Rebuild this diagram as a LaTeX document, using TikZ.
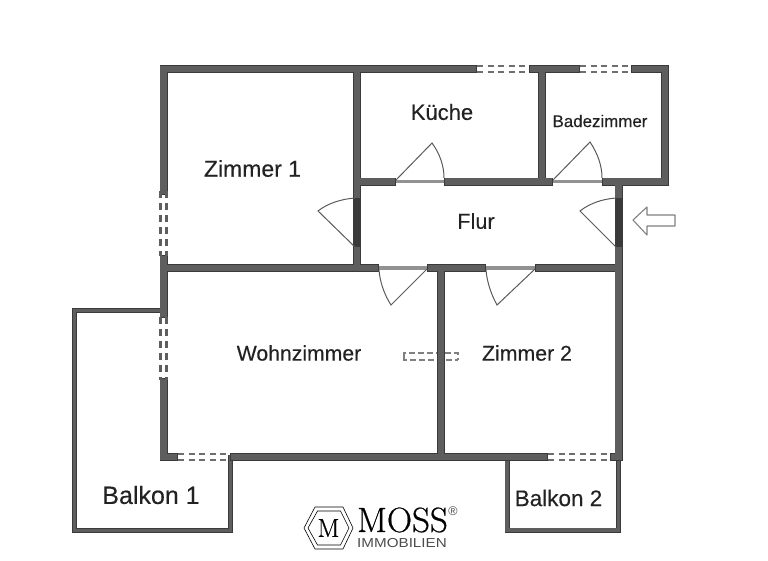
\documentclass[tikz,border=0pt]{standalone}
\usepackage{fontspec}
\newfontfamily\planfont[FakeBold=0.25]{Liberation Sans}
\newfontfamily\thinfont{Liberation Sans}
\newfontfamily\logofont[FakeBold=0.6]{Latin Modern Roman}
\definecolor{walldark}{HTML}{3A3A3A}
\definecolor{wallgray}{HTML}{5E5E5E}
\definecolor{doorgray}{HTML}{5A5A5A}
\definecolor{sillgray}{HTML}{929292}
\definecolor{labeltext}{HTML}{222222}
\definecolor{dashgray}{HTML}{6E6E6E}
\tikzset{
  roomlabel/.style={font=\planfont, text=labeltext, inner sep=0pt},
  doorleaf/.style={draw=doorgray, line width=1pt},
  doorsill/.style={draw=sillgray, line width=3.2pt},
  windowline/.style={draw=dashgray, line width=1.7pt, dash pattern=on 6pt off 4.5pt},
  sidewindow/.style={draw=wallgray, line width=2.2pt, dash pattern=on 7pt off 5pt}
}
\def\wallsegs{163.5/69/473/69, 533/69/576/69, 635/69/665/69,
  357/181.5/392/181.5, 448/181.5/549/181.5, 606/181.5/665/181.5,
  163.5/268/375/268, 431/268/482/268, 539/268/618.5/268,
  163.5/457/174/457, 234/457/544/457, 614/457/618.5/457,
  163.5/69/163.5/191, 163.5/259/163.5/314, 163.5/382/163.5/457,
  357/69/357/268, 542/69/542/181.5, 665/69/665/181.5,
  618.5/181.5/618.5/457, 441/268/441/457}
\def\balkonsegs{74.5/310.5/160/310.5, 74.5/310.5/74.5/530.5, 74.5/530.5/230.5/530.5,
  230.5/457/230.5/530.5, 507/461/507/530, 507/530/618.5/530, 618.5/457/618.5/530}
\begin{document}
\begin{tikzpicture}[x=1pt,y=-1pt]
\useasboundingbox (0,0) rectangle (768,560);

%cupboard
\draw[draw=gray, line width=1.2pt, dash pattern=on 6pt off 3pt] (404,357) -- (404,353) -- (458,353) -- (458,360) (404,357) -- (404,360) -- (458,360);

%balcony walls
\foreach \xa/\ya/\xb/\yb in \balkonsegs
  \draw[walldark, line width=5pt, line cap=rect] (\xa,\ya) -- (\xb,\yb);
\foreach \xa/\ya/\xb/\yb in \balkonsegs
  \draw[wallgray, line width=3.4pt, line cap=rect] (\xa,\ya) -- (\xb,\yb);

%walls
\foreach \xa/\ya/\xb/\yb in \wallsegs
  \draw[walldark, line width=8pt, line cap=rect] (\xa,\ya) -- (\xb,\yb);
\foreach \xa/\ya/\xb/\yb in \wallsegs
  \draw[wallgray, line width=6.4pt, line cap=rect] (\xa,\ya) -- (\xb,\yb);

%door wall parts
\draw[walldark, line width=8pt] (357,198) -- (357,247);
\draw[walldark, line width=8pt] (618.5,198) -- (618.5,247);

%windows
\draw[windowline] (477,66) -- (529,66);
\draw[windowline] (477,72) -- (529,72);
\draw[windowline] (580,66) -- (631,66);
\draw[windowline] (580,72) -- (631,72);
\draw[windowline] (178,454) -- (230,454);
\draw[windowline] (178,460) -- (230,460);
\draw[windowline] (548,454) -- (610,454);
\draw[windowline] (548,460) -- (610,460);
\draw[sidewindow] (160.5,191) -- (160.5,256);
\draw[sidewindow] (166.5,191) -- (166.5,256);
\draw[sidewindow] (160.5,317) -- (160.5,380);
\draw[sidewindow] (166.5,317) -- (166.5,380);

%door sills
\draw[doorsill] (396,181.5) -- (444,181.5);
\draw[doorsill] (553,181.5) -- (602,181.5);
\draw[doorsill] (379,268) -- (427,268);
\draw[doorsill] (486,268) -- (535,268);

%doors
\draw[doorleaf] (396,180) -- (432,143) .. controls (440,154) and (444,166) .. (444,178);
\draw[doorleaf] (553,180) -- (590,142) .. controls (598,154) and (602,166) .. (602,178);
\draw[doorleaf] (616,247) -- (580,211) .. controls (590,203) and (603,199) .. (616,198);
\draw[doorleaf] (355,247) -- (318,211) .. controls (328,203) and (342,199) .. (355,198);
\draw[doorleaf] (427,269) -- (391,305) .. controls (384,294) and (380,282) .. (379,270);
\draw[doorleaf] (535,269) -- (497,305) .. controls (491,294) and (487,282) .. (486,270);

%entrance arrow
\draw[draw=gray, line width=1.1pt, line join=round] (633,220) -- (647,207) -- (647,215) -- (675,215) -- (675,226) -- (647,226) -- (647,235) -- cycle;

%room text
\node[roomlabel, font=\planfont\fontsize{23}{26}\selectfont] (zimmera) at (252.5,168.5) {Zimmer 1};
\node[roomlabel, font=\planfont\fontsize{22}{24}\selectfont] (kueche) at (442,112) {Küche};
\node[roomlabel, font=\planfont\fontsize{16.9}{20}\selectfont] (bad) at (600,121) {Badezimmer};
\node[roomlabel, font=\planfont\fontsize{21.7}{24}\selectfont] (flur) at (476,221) {Flur};
\node[roomlabel, font=\planfont\fontsize{21.2}{24}\selectfont] (wohn) at (299,353) {Wohnzimmer};
\node[roomlabel, font=\planfont\fontsize{21.3}{24}\selectfont] (zimmerb) at (527,353) {Zimmer 2};
\node[roomlabel, font=\planfont\fontsize{25}{28}\selectfont] (balkona) at (151,495) {Balkon 1};
\node[roomlabel, font=\planfont\fontsize{22.5}{25}\selectfont] (balkonb) at (558.5,498) {Balkon 2};

%logo
\draw[black, line width=.6pt] (304,528) -- (315,507) -- (343,507) -- (353,528) -- (343,549) -- (315,549) -- cycle;
\draw[black, line width=.6pt] (308,528) -- (317.5,511) -- (340.5,511) -- (349,528) -- (340.5,545) -- (317.5,545) -- cycle;
\node[inner sep=0pt, font=\logofont\fontsize{26}{28}\selectfont] (logom) at (328.5,528) {M};
\node[inner sep=0pt, font=\logofont\fontsize{35}{37}\selectfont] (moss) at (402.5,520) {MOSS};
\node[inner sep=0pt, font=\thinfont\fontsize{12.5}{14}\selectfont, text=black!70] (reg) at (453,511) {®};
\node[inner sep=0pt, xscale=1.17, font=\thinfont\fontsize{13}{15}\selectfont, text=black!70] (immo) at (402,543.5) {IMMOBILIEN};
\end{tikzpicture}
\end{document}
